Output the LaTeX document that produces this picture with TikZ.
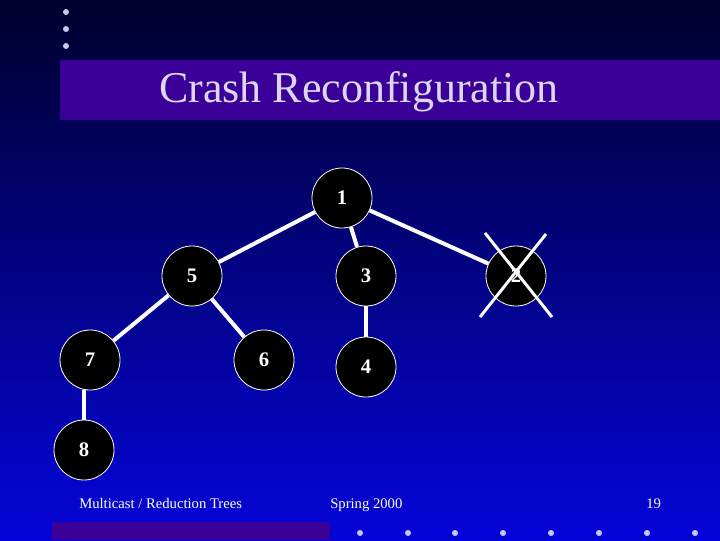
\documentclass[tikz,border=0pt]{standalone}
\usepackage{fontspec}
\setmainfont{Liberation Serif}
\definecolor{bgtop}{RGB}{0,0,45}
\definecolor{bgbot}{RGB}{5,5,218}
\definecolor{titlec}{RGB}{58,0,152}
\definecolor{titletext}{RGB}{220,214,240}
\definecolor{dotc}{RGB}{200,200,228}
\begin{document}
\begin{tikzpicture}[x=0.75pt,y=-0.75pt,
  tnode/.style={circle,fill=black,draw=white,line width=0.6pt,minimum size=45pt,inner sep=0pt,text=white,font=\bfseries\fontsize{15.5}{18}\selectfont},
  tedge/.style={draw=white,line width=3pt},
  crossline/.style={draw=white,line width=2.2pt},
  dotmark/.style={circle,fill=dotc,inner sep=0pt,minimum size=4.5pt},
  foot/.style={text=white,anchor=base west,inner sep=0pt,font=\fontsize{11}{13}\selectfont}]
\useasboundingbox (0,0) rectangle (720,540);
\shade[top color=bgtop,bottom color=bgbot] (0,0) rectangle (720,540);
% title bar
\fill[titlec] (60,60) rectangle (720,120);
\node[text=titletext,inner sep=0pt,font=\fontsize{33}{38}\selectfont] (title) at (359,92) {Crash Reconfiguration};
% bottom strip
\fill[titlec] (52,522) rectangle (330,540);
% dots
\foreach \i/\y in {1/12,2/29,3/46} \node[dotmark] (td\i) at (66,\y) {};
\foreach \i/\x in {1/360,2/408,3/455,4/503,5/551,6/599,7/647,8/695} \node[dotmark] (bd\i) at (\x,533) {};
% nodes
\node[tnode] (n1) at (342,198) {1};
\node[tnode] (n5) at (192,276) {5};
\node[tnode] (n3) at (366,276) {3};
\node[tnode] (n2) at (516,276) {2};
\node[tnode] (n7) at (90,360) {7};
\node[tnode] (n6) at (264,360) {6};
\node[tnode] (n4) at (366,367) {4};
\node[tnode] (n8) at (84,450) {8};
% edges
\draw[tedge] (n1) -- (n5);
\draw[tedge] (n1) -- (n3);
\draw[tedge] (n1) -- (n2);
\draw[tedge] (n5) -- (n7);
\draw[tedge] (n5) -- (n6);
\draw[tedge] (n3) -- (n4);
\draw[tedge] (n7.south -| n8) -- (n8);
% cross on node 2
\coordinate (c1a) at (485,233);
\coordinate (c1b) at (552,317);
\coordinate (c2a) at (546,234);
\coordinate (c2b) at (480,317);
\draw[crossline] (c1a) -- (c1b);
\draw[crossline] (c2a) -- (c2b);
% footer
\node[foot] (f1) at (79,508) {Multicast / Reduction Trees};
\node[foot] (f2) at (330,508) {Spring 2000};
\node[foot] (f3) at (646,508) {19};
\end{tikzpicture}
\end{document}
